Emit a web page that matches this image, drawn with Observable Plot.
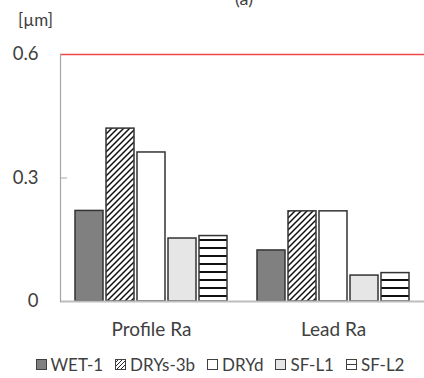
<!DOCTYPE html>
<html>
<head>
<meta charset="utf-8">
<script src="https://cdn.jsdelivr.net/npm/d3@7"></script>
<script src="https://cdn.jsdelivr.net/npm/@observablehq/plot@0.6"></script>
<style>
  html, body { margin: 0; padding: 0; background: #fff; overflow: hidden; }
  body { width: 424px; height: 378px; font-family: Lato, "Open Sans", sans-serif; color: #595959; position: relative; }
  #head { position: relative; height: 36px; }
  #title { position: absolute; top: -13px; left: 0; width: 488px; text-align: center; font-size: 18px; color: #404040; }
  #unit { position: absolute; left: 18px; top: 9px; font-size: 17px; color: #404040; }
  #legend { display: flex; justify-content: center; align-items: center; height: 33px; padding-top: 6px; box-sizing: border-box; font-size: 17px; color: #404040; padding-left: 16px; }
  .item { display: flex; align-items: center; margin: 0 6px; }
  .item svg { margin-right: 4px; }
</style>
</head>
<body>
<svg width="0" height="0" style="position:absolute">
  <defs>
    <pattern id="diag" patternUnits="userSpaceOnUse" width="6" height="6">
      <rect width="6" height="6" fill="#fff"/>
      <path d="M-1,7 L7,-1 M-4,4 L4,-4 M2,10 L10,2" stroke="#111" stroke-width="1.5"/>
    </pattern>
    <pattern id="hstripe" patternUnits="userSpaceOnUse" width="8" height="8">
      <rect width="8" height="8" fill="#fff"/>
      <rect y="3" width="8" height="2" fill="#111"/>
    </pattern>
    <pattern id="diagS" patternUnits="userSpaceOnUse" width="4" height="4">
      <rect width="4" height="4" fill="#fff"/>
      <path d="M-1,5 L5,-1" stroke="#222" stroke-width="1"/>
    </pattern>
  </defs>
</svg>
<div id="head"><div id="title">(a)</div><div id="unit">[µm]</div></div>
<div id="chart"></div>
<div id="legend"></div>
<script>
const groups = ["Profile Ra", "Lead Ra"];
const series = ["WET-1", "DRYs-3b", "DRYd", "SF-L1", "SF-L2"];
const profileRa = [0.22, 0.42, 0.362, 0.153, 0.159];
const leadRa = [0.124, 0.219, 0.219, 0.063, 0.069];
const yTicks = [0, 0.3, 0.6];
const limit = 0.6;

const fills = {"WET-1": "#808080", "DRYs-3b": "url(#diag)", "DRYd": "#ffffff", "SF-L1": "#e6e6e6", "SF-L2": "url(#hstripe)"};

const data = [];
series.forEach((s, i) => {
  data.push({group: groups[0], series: s, value: profileRa[i]});
  data.push({group: groups[1], series: s, value: leadRa[i]});
});

const chart = Plot.plot({
  width: 424,
  height: 309,
  marginTop: 18,
  marginBottom: 44,
  marginLeft: 60,
  marginRight: 0,
  style: {fontFamily: "Lato, 'Open Sans', sans-serif", fontSize: "18px", color: "#404040", background: "#fff"},
  fx: {domain: groups, padding: 0, label: null},
  x: {domain: series, paddingInner: 0.11, paddingOuter: 0.44, axis: null},
  y: {domain: [0, 0.6], label: null},
  marks: [
    Plot.barY(data, {fx: "group", x: "series", y: "value", fill: d => fills[d.series], stroke: "#333", strokeWidth: 1.5}),
    Plot.ruleY([0], {stroke: "#bdbdbd", strokeWidth: 2}),
    Plot.ruleY([limit], {stroke: "#f04848", strokeWidth: 1.5}),
    Plot.frame({anchor: "left", stroke: "#a6a6a6", strokeWidth: 1.2, facetAnchor: "left"}),
    Plot.axisY({ticks: yTicks, tickSize: 0, tickPadding: 22, tickFormat: d => d === 0 ? "0" : d3.format(".1f")(d), fontSize: 18.5, fill: "#404040"}),
    Plot.axisY({ticks: [0.3], tickSize: -7, text: null, stroke: "#a6a6a6", label: null}),
    Plot.axisFx({anchor: "bottom", tickSize: 0, tickPadding: 21, label: null, fontSize: 19, fill: "#404040"})
  ]
});
document.getElementById("chart").appendChild(chart);

const legend = document.getElementById("legend");
const swatch = {
  "WET-1": '<rect x="0.5" y="0.5" width="10" height="10" fill="#808080" stroke="#404040"/>',
  "DRYs-3b": '<rect x="0.5" y="0.5" width="10" height="10" fill="url(#diagS)" stroke="#404040"/>',
  "DRYd": '<rect x="0.5" y="0.5" width="10" height="10" fill="#fff" stroke="#404040"/>',
  "SF-L1": '<rect x="0.5" y="0.5" width="10" height="10" fill="#e6e6e6" stroke="#404040"/>',
  "SF-L2": '<rect x="0.5" y="0.5" width="10" height="10" fill="#fff" stroke="#404040"/><line x1="0.5" x2="10.5" y1="5.5" y2="5.5" stroke="#404040"/>'
};
series.forEach(s => {
  const it = document.createElement("div");
  it.className = "item";
  it.innerHTML = '<svg width="11" height="11">' + swatch[s] + '</svg><span>' + s + '</span>';
  legend.appendChild(it);
});
</script>
</body>
</html>
